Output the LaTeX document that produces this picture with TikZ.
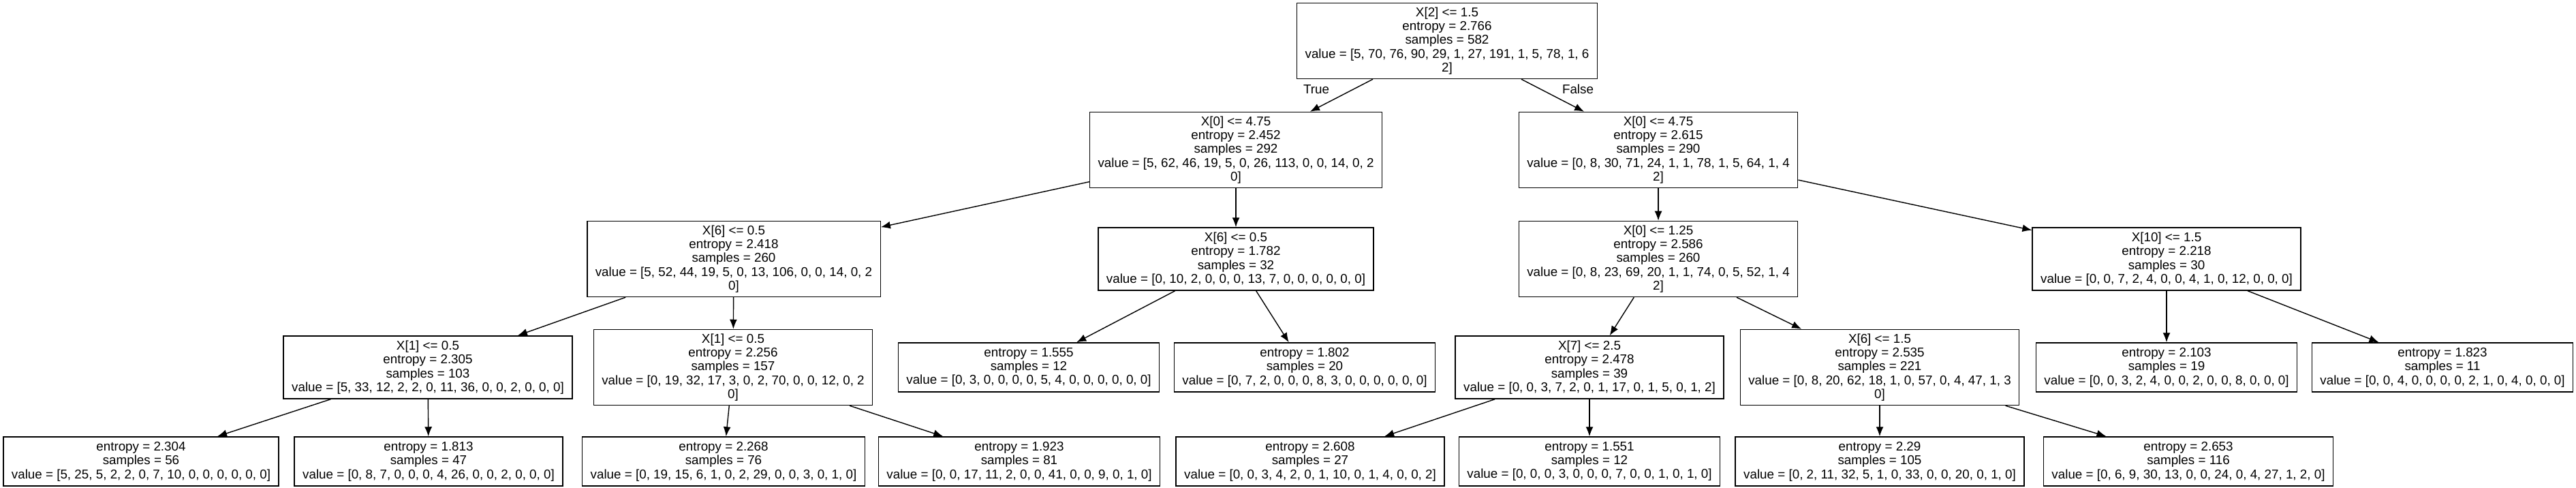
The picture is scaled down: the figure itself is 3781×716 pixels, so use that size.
\documentclass[tikz,border=0pt]{standalone}
\usepackage{fontspec}
\setmainfont{Liberation Sans}
\usetikzlibrary{arrows.meta}
\newcommand{\treefont}{\fontsize{5.35}{5.8}\selectfont}
\tikzset
{
box/.style={draw, rectangle, align=center, line width=0.4pt, inner xsep=0.12cm, inner ysep=0.04cm, font=\treefont},
leaf/.style={box, minimum height=0.72cm},
quad/.style={box, minimum height=0.92cm},
quin/.style={box, minimum height=1.11cm},
side/.style={font=\treefont, inner sep=0pt}
}

\begin{document}
\begin{tikzpicture}[x=0.01cm, y=-0.01cm, >={Latex[length=0.14cm, width=0.11cm]}]
	\fill[white] (0, 0) rectangle (3781, 716);
	\useasboundingbox (0, 0) rectangle (3781, 716);

		% [LEVEL 0]
		\node[quin] (root) at (2124, 60) {X[2] <= 1.5\\entropy = 2.766\\samples = 582\\value = [5, 70, 76, 90, 29, 1, 27, 191, 1, 5, 78, 1, 6\\2]};
		\node[side] (yes) at (1932, 131) {True};
		\node[side] (no) at (2316, 131) {False};

		% [LEVEL 1]
		\node[quin] (l) at (1814, 220) {X[0] <= 4.75\\entropy = 2.452\\samples = 292\\value = [5, 62, 46, 19, 5, 0, 26, 113, 0, 0, 14, 0, 2\\0]};
		\node[quin] (r) at (2434, 220) {X[0] <= 4.75\\entropy = 2.615\\samples = 290\\value = [0, 8, 30, 71, 24, 1, 1, 78, 1, 5, 64, 1, 4\\2]};

		% [LEVEL 2]
		\node[quin] (ll) at (1077, 380) {X[6] <= 0.5\\entropy = 2.418\\samples = 260\\value = [5, 52, 44, 19, 5, 0, 13, 106, 0, 0, 14, 0, 2\\0]};
		\node[quad] (lr) at (1814, 380) {X[6] <= 0.5\\entropy = 1.782\\samples = 32\\value = [0, 10, 2, 0, 0, 0, 13, 7, 0, 0, 0, 0, 0, 0]};
		\node[quin] (rl) at (2434, 380) {X[0] <= 1.25\\entropy = 2.586\\samples = 260\\value = [0, 8, 23, 69, 20, 1, 1, 74, 0, 5, 52, 1, 4\\2]};
		\node[quad] (rr) at (3180, 380) {X[10] <= 1.5\\entropy = 2.218\\samples = 30\\value = [0, 0, 7, 2, 4, 0, 0, 4, 1, 0, 12, 0, 0, 0]};

		% [LEVEL 3]
		\node[quad] (lll) at (628, 539) {X[1] <= 0.5\\entropy = 2.305\\samples = 103\\value = [5, 33, 12, 2, 2, 0, 11, 36, 0, 0, 2, 0, 0, 0]};
		\node[quin] (llr) at (1076, 539) {X[1] <= 0.5\\entropy = 2.256\\samples = 157\\value = [0, 19, 32, 17, 3, 0, 2, 70, 0, 0, 12, 0, 2\\0]};
		\node[leaf] (lrl) at (1510, 539) {entropy = 1.555\\samples = 12\\value = [0, 3, 0, 0, 0, 0, 5, 4, 0, 0, 0, 0, 0, 0]};
		\node[leaf] (lrr) at (1915, 539) {entropy = 1.802\\samples = 20\\value = [0, 7, 2, 0, 0, 0, 8, 3, 0, 0, 0, 0, 0, 0]};
		\node[quad] (rll) at (2333, 539) {X[7] <= 2.5\\entropy = 2.478\\samples = 39\\value = [0, 0, 3, 7, 2, 0, 1, 17, 0, 1, 5, 0, 1, 2]};
		\node[quin] (rlr) at (2759, 539) {X[6] <= 1.5\\entropy = 2.535\\samples = 221\\value = [0, 8, 20, 62, 18, 1, 0, 57, 0, 4, 47, 1, 3\\0]};
		\node[leaf] (rrl) at (3180, 539) {entropy = 2.103\\samples = 19\\value = [0, 0, 3, 2, 4, 0, 0, 2, 0, 0, 8, 0, 0, 0]};
		\node[leaf] (rrr) at (3585, 539) {entropy = 1.823\\samples = 11\\value = [0, 0, 4, 0, 0, 0, 0, 2, 1, 0, 4, 0, 0, 0]};

		% [LEVEL 4]
		\node[leaf] (llll) at (207, 677) {entropy = 2.304\\samples = 56\\value = [5, 25, 5, 2, 2, 0, 7, 10, 0, 0, 0, 0, 0, 0]};
		\node[leaf] (lllr) at (629, 677) {entropy = 1.813\\samples = 47\\value = [0, 8, 7, 0, 0, 0, 4, 26, 0, 0, 2, 0, 0, 0]};
		\node[leaf] (llrl) at (1062, 677) {entropy = 2.268\\samples = 76\\value = [0, 19, 15, 6, 1, 0, 2, 29, 0, 0, 3, 0, 1, 0]};
		\node[leaf] (llrr) at (1496, 677) {entropy = 1.923\\samples = 81\\value = [0, 0, 17, 11, 2, 0, 0, 41, 0, 0, 9, 0, 1, 0]};
		\node[leaf] (rlll) at (1923, 677) {entropy = 2.608\\samples = 27\\value = [0, 0, 3, 4, 2, 0, 1, 10, 0, 1, 4, 0, 0, 2]};
		\node[leaf] (rllr) at (2333, 677) {entropy = 1.551\\samples = 12\\value = [0, 0, 0, 3, 0, 0, 0, 7, 0, 0, 1, 0, 1, 0]};
		\node[leaf] (rlrl) at (2759, 677) {entropy = 2.29\\samples = 105\\value = [0, 2, 11, 32, 5, 1, 0, 33, 0, 0, 20, 0, 1, 0]};
		\node[leaf] (rlrr) at (3212, 677) {entropy = 2.653\\samples = 116\\value = [0, 6, 9, 30, 13, 0, 0, 24, 0, 4, 27, 1, 2, 0]};

		\path[->, line width=0.4pt] (root) edge (l) (root) edge (r);
		\path[->, line width=0.4pt] (l) edge (ll) (l) edge (lr) (r) edge (rl) (r) edge (rr);
		\path[->, line width=0.4pt] (ll) edge (lll) (ll) edge (llr) (lr) edge (lrl) (lr) edge (lrr);
		\path[->, line width=0.4pt] (rl) edge (rll) (rl) edge (rlr) (rr) edge (rrl) (rr) edge (rrr);
		\path[->, line width=0.4pt] (lll) edge (llll) (lll) edge (lllr) (llr) edge (llrl) (llr) edge (llrr);
		\path[->, line width=0.4pt] (rll) edge (rlll) (rll) edge (rllr) (rlr) edge (rlrl) (rlr) edge (rlrr);
\end{tikzpicture}
\end{document}
